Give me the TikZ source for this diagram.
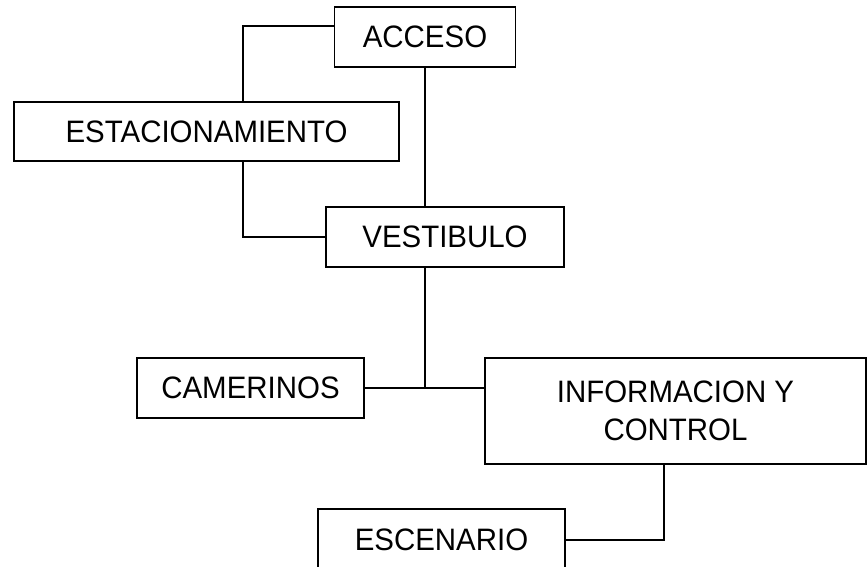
\documentclass[tikz,border=0pt]{standalone}
\usepackage{fontspec}
\setmainfont[FakeStretch=0.95]{Liberation Sans}
\begin{document}
\begin{tikzpicture}[x=1pt,y=-1pt,
  box/.style={draw=black,line width=1.8pt,fill=white,inner sep=0pt,align=center,
    font=\fontsize{31}{38}\selectfont},
  conn/.style={draw=black,line width=1.8pt}]
\useasboundingbox[fill=white] (0,0) rectangle (867,567);
\node[box, minimum width=181pt, minimum height=60pt] (acc) at (425,37) {ACCESO};
\node[box, minimum width=385pt, minimum height=59pt] (est) at (206.5,131.5) {ESTACIONAMIENTO};
\node[box, minimum width=238pt, minimum height=60pt] (ves) at (445,237) {VESTIBULO};
\node[box, minimum width=227pt, minimum height=60pt] (cam) at (250.5,388) {CAMERINOS};
\node[box, minimum width=381pt, minimum height=106pt] (inf) at (675.5,411) {INFORMACION Y\\CONTROL};
\node[box, minimum width=247pt, minimum height=62pt] (esc) at (441.5,540) {ESCENARIO};
\coordinate (hub) at (425,388);
\draw[conn] ([yshift=11pt]acc.west) -| ([xshift=36.5pt]est.north);
\draw[conn] ([xshift=36.5pt]est.south) |- (ves.west);
\draw[conn] (acc.south) -- (acc.south |- ves.north);
\draw[conn] (acc.south |- ves.south) -- (hub);
\draw[conn] (cam.east) -- (inf.west |- cam.east);
\draw[conn] ([xshift=-11.5pt]inf.south) |- (esc.east);
\end{tikzpicture}
\end{document}
